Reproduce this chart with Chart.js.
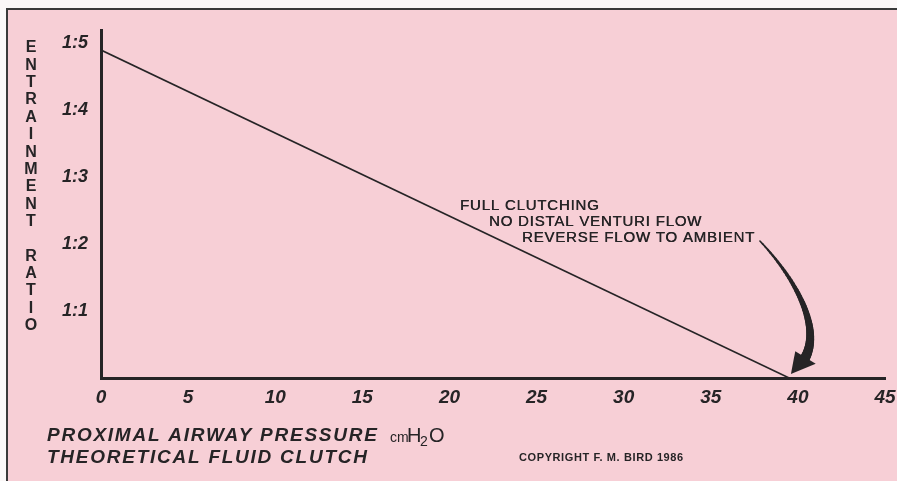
<!DOCTYPE html>
<html>
<head>
<meta charset="utf-8">
<script src="https://cdn.jsdelivr.net/npm/chart.js@4.4.1/dist/chart.umd.min.js"></script>
<style>
  html, body { margin: 0; padding: 0; background: #fbf8f8; }
  #wrap { width: 897px; height: 481px; position: relative; }
</style>
</head>
<body>
<div id="wrap"><canvas id="clutch-chart" width="897" height="481"></canvas></div>
<script>
// proximal airway pressure (cm H2O) vs entrainment ratio
const pressure = [0, 39.5];
const ratio = [4.9, 0];
const xTicks = [0, 5, 10, 15, 20, 25, 30, 35, 40, 45];
const yTickLabels = ['', '1:1', '1:2', '1:3', '1:4', '1:5'];
const yTitle = 'ENTRAINMENT RATIO';
const noteLines = ['FULL CLUTCHING', 'NO DISTAL VENTURI FLOW', 'REVERSE FLOW TO AMBIENT'];
const xTitle1 = 'PROXIMAL AIRWAY PRESSURE';
const xTitle2 = 'THEORETICAL FLUID CLUTCH';
const copyright = 'COPYRIGHT F. M. BIRD 1986';

const ink = '#262426';
const pink = '#f7cfd6';
const sans = '"Liberation Sans", Arial, sans-serif';

const decorPlugin = {
    id: 'decor',
    beforeDraw(chart) {
        const c = chart.ctx;
        c.save();
        c.fillStyle = pink;
        c.fillRect(7, 9, chart.width - 7, chart.height - 9);
        c.strokeStyle = '#3a3a3a';
        c.lineWidth = 2;
        c.beginPath();
        c.moveTo(7, chart.height);
        c.lineTo(7, 9);
        c.lineTo(chart.width, 9);
        c.stroke();
        c.restore();
    },
    afterDraw(chart) {
        const c = chart.ctx;
        const xs = chart.scales.x, ys = chart.scales.y;
        const spacing = v => { if ('letterSpacing' in c) c.letterSpacing = v; };
        c.save();
        c.fillStyle = ink;

        // stacked y title
        c.font = 'bold 16px ' + sans;
        c.textAlign = 'center';
        c.textBaseline = 'middle';
        yTitle.split('').forEach((ch, i) => {
            c.fillText(ch, 31, 48 + i * 17.35);
        });

        // note next to the line
        c.font = '15px ' + sans;
        spacing('0.8px');
        c.textAlign = 'left';
        const nx = xs.getPixelForValue(20.6), ny = ys.getPixelForValue(2.57);
        const offs = [0, 29, 62];
        noteLines.forEach((t, i) => {
            c.fillText(t, nx + offs[i], ny + i * 16);
            c.fillText(t, nx + offs[i] + 0.4, ny + i * 16);
        });
        spacing('0px');

        // curved arrow to the 40 mark
        const tx = xs.getPixelForValue(39.6), ty = ys.getPixelForValue(0) - 4;
        const p0 = [tx - 31, ty - 133], p1 = [tx + 5, ty - 95], p2 = [tx + 32, ty - 45], p3 = [tx + 13, ty - 14];
        const bez = (t, k) => {
            const u = 1 - t;
            return u * u * u * p0[k] + 3 * u * u * t * p1[k] + 3 * u * t * t * p2[k] + t * t * t * p3[k];
        };
        c.strokeStyle = ink;
        c.lineCap = 'round';
        const n = 40;
        for (let i = 0; i < n; i++) {
            const a = i / n, b = (i + 1) / n;
            c.lineWidth = 1.5 + 8.5 * Math.pow(b, 1.2);
            c.beginPath();
            c.moveTo(bez(a, 0), bez(a, 1));
            c.lineTo(bez(b, 0), bez(b, 1));
            c.stroke();
        }
        const dx = p3[0] - p2[0], dy = p3[1] - p2[1];
        const len = Math.hypot(dx, dy), ux = dx / len, uy = dy / len;
        c.beginPath();
        c.moveTo(tx, ty);
        c.lineTo(p3[0] - ux * 3 + uy * 12, p3[1] - uy * 3 - ux * 12);
        c.lineTo(p3[0] - ux * 3 - uy * 12, p3[1] - uy * 3 + ux * 12);
        c.closePath();
        c.fill();

        // x titles
        c.textBaseline = 'middle';
        c.font = 'italic bold 19px ' + sans;
        spacing('1.75px');
        c.fillText(xTitle1, 47, 436);
        c.fillText(xTitle2, 47, 458);
        spacing('0px');
        c.font = '14px ' + sans;
        c.fillText('cm', 390, 438);
        c.font = '20px ' + sans;
        c.fillText('H', 407, 436);
        c.font = '14px ' + sans;
        c.fillText('2', 420, 442);
        c.font = '20px ' + sans;
        c.fillText('O', 429, 436);

        c.font = 'bold 11px ' + sans;
        spacing('0.6px');
        c.fillText(copyright, 519, 458);
        c.restore();
    }
};

new Chart(document.getElementById('clutch-chart'), {
    type: 'scatter',
    data: {
        datasets: [{
            data: pressure.map((p, i) => ({ x: p, y: ratio[i] })),
            showLine: true,
            borderColor: ink,
            borderWidth: 1.6,
            pointRadius: 0,
            fill: false
        }]
    },
    options: {
        responsive: false,
        animation: false,
        layout: { padding: { top: 30, right: 12, left: 0, bottom: 0 } },
        plugins: { legend: { display: false }, tooltip: { enabled: false } },
        scales: {
            x: {
                type: 'linear',
                min: 0,
                max: 45,
                afterFit: s => { s.height = 103; },
                afterBuildTicks: s => { s.ticks = xTicks.map(v => ({ value: v })); },
                grid: { display: false },
                border: { display: true, color: ink, width: 3 },
                ticks: {
                    color: ink,
                    padding: 0,
                    maxRotation: 0,
                    font: { family: sans, size: 19, style: 'italic', weight: 'bold' },
                    callback: v => String(v)
                }
            },
            y: {
                type: 'linear',
                min: 0,
                max: 5.2,
                afterFit: s => { s.width = 101; },
                grid: { display: false },
                border: { display: true, color: ink, width: 3 },
                ticks: {
                    stepSize: 1,
                    includeBounds: false,
                    color: ink,
                    padding: 5,
                    font: { family: sans, size: 18, style: 'italic', weight: 'bold' },
                    callback: v => yTickLabels[v] ?? ''
                }
            }
        }
    },
    plugins: [decorPlugin]
});
</script>
</body>
</html>
